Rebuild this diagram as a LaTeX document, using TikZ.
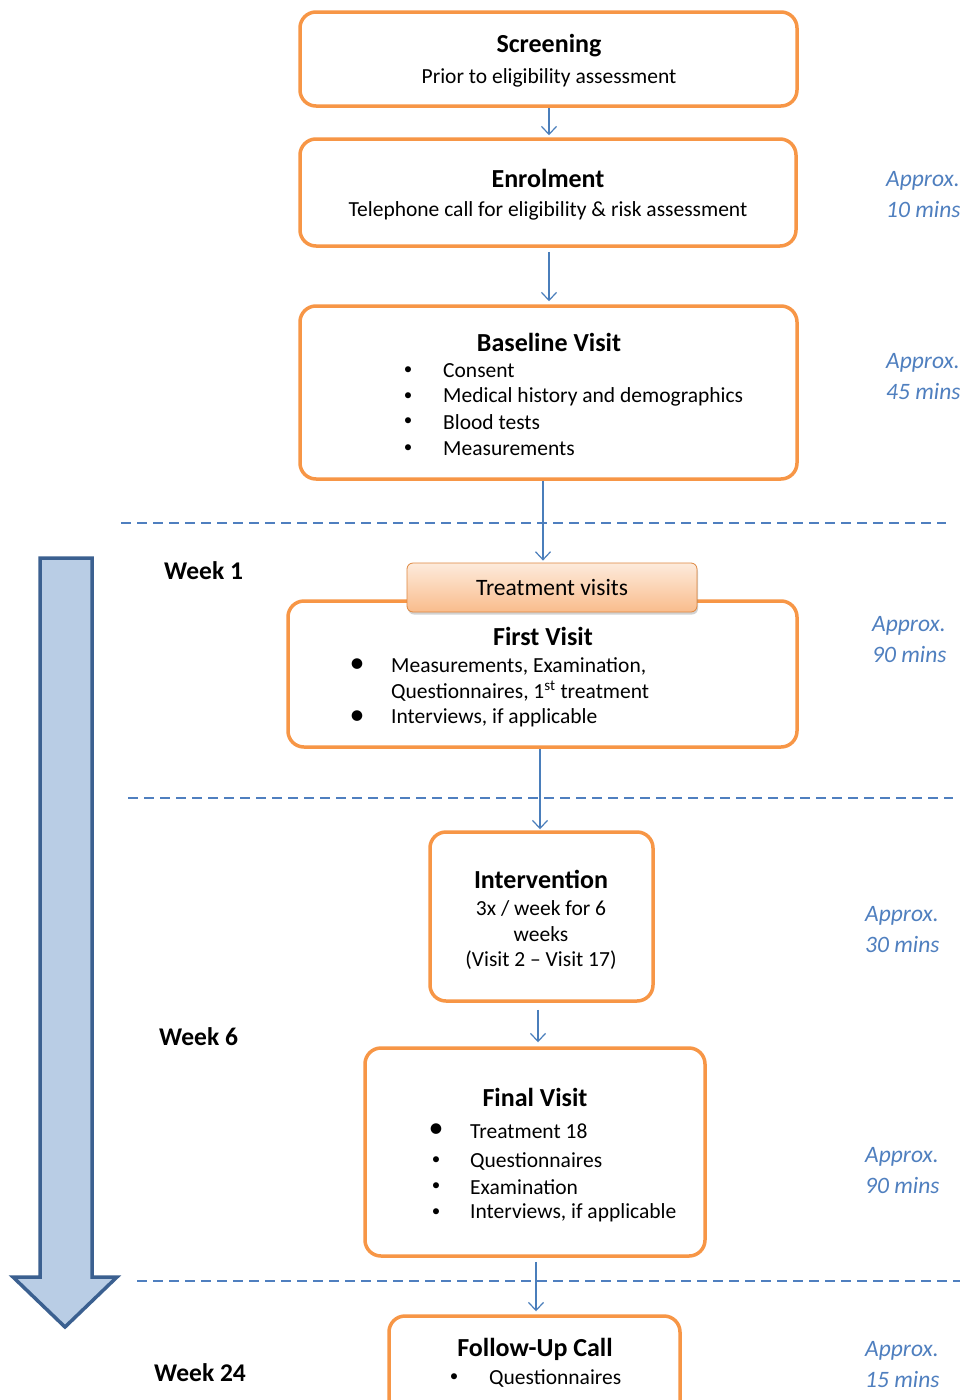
\documentclass[tikz,border=0pt]{standalone}
\usepackage{fontspec}
\setmainfont{Carlito}
\usetikzlibrary{arrows.meta,shadows}
\definecolor{borange}{HTML}{F79646}
\definecolor{lblue}{HTML}{4A7EBB}
\definecolor{tblue}{HTML}{4F7FBF}
\definecolor{afill}{HTML}{B9CDE5}
\definecolor{aline}{HTML}{3B6090}
\definecolor{tvtop}{HTML}{FDEBDC}
\definecolor{tvbot}{HTML}{F9BC8C}
\tikzset{
  obox/.style={draw=borange, line width=3.5pt, rounded corners=16pt, rectangle, fill=white},
  conn/.style={draw=lblue, line width=1.2pt, -{Straight Barb[length=8pt,width=15pt,line width=1.2pt]}},
  dline/.style={draw=tblue, line width=1.4pt, dash pattern=on 10pt off 6pt},
  ttl/.style={font=\fontsize{26}{30}\selectfont\bfseries, inner sep=0pt},
  txt/.style={font=\fontsize{21.5}{26}\selectfont, inner sep=0pt},
  ltxt/.style={txt, anchor=west},
  sbul/.style={font=\fontsize{17}{20}\selectfont, inner sep=0pt},
  lbul/.style={font=\fontsize{30}{30}\selectfont, inner sep=0pt},
  appr/.style={font=\fontsize{23.5}{28}\selectfont\itshape, text=tblue, anchor=west, inner sep=0pt},
  week/.style={font=\fontsize{25.5}{30}\selectfont\bfseries, anchor=west, inner sep=0pt}
}
\begin{document}
\begin{tikzpicture}[x=1pt,y=-1pt]
\useasboundingbox (0,0) rectangle (960,1400);
\fill[white] (0,0) rectangle (960,1400);

% big timeline arrow
\draw[fill=afill, draw=aline, line width=3.5pt, line join=miter]
  (40,558) -- (92,558) -- (92,1277) -- (117,1277) -- (65,1327) -- (13,1277) -- (40,1277) -- cycle;

% dashed separators
\draw[dline] (121,523) -- (946,523);
\draw[dline] (128,798) -- (953,798);
\draw[dline] (137,1281) -- (962,1281);

% boxes
\node[obox, minimum width=497pt, minimum height=94pt] (scr) at (548.5,59) {};
\node[obox, minimum width=496pt, minimum height=107pt] (enr) at (548,192.5) {};
\node[obox, minimum width=497pt, minimum height=173pt] (base) at (548.5,392.5) {};
\node[obox, minimum width=509pt, minimum height=146pt] (first) at (542.5,674) {};
\node[draw=borange!90!black, line width=0.8pt, rounded corners=6pt, top color=tvtop, bottom color=tvbot,
      minimum width=290pt, minimum height=49pt, inner sep=0pt,
      drop shadow={opacity=0.35, shadow xshift=1pt, shadow yshift=-2.5pt},
      font=\fontsize{23.5}{27}\selectfont] (tv) at (552,587.5) {Treatment visits};
\node[obox, minimum width=223pt, minimum height=169pt] (intv) at (541.5,916.5) {};
\node[obox, minimum width=340pt, minimum height=208pt] (final) at (535,1152) {};
\node[obox, minimum width=291pt, minimum height=100pt] (fu) at (534.5,1366) {};

% connector columns
\coordinate (c1) at (549,0);
\coordinate (c3) at (543,0);
\coordinate (c4) at (540,0);
\coordinate (c5) at (538,0);
\coordinate (c6) at (536,0);
\draw[conn, shorten >=2pt] (scr.south -| c1) -- (enr.north -| c1);
\draw[conn, shorten <=4pt, shorten >=3pt] (enr.south -| c1) -- (base.north -| c1);
\draw[conn, shorten >=2pt] (base.south -| c3) -- (tv.north -| c3);
\draw[conn, shorten >=1pt] (first.south -| c4) -- (intv.north -| c4);
\draw[conn, shorten <=7pt, shorten >=4pt] (intv.south -| c5) -- (final.north -| c5);
\draw[conn, shorten <=4pt, shorten >=3pt] (final.south -| c6) -- (fu.north -| c6);

% Screening
\node[ttl] (scrt) at (549,46) {Screening};
\node[txt] (scrs) at (549,78) {Prior to eligibility assessment};
% Enrolment
\node[ttl] (enrt) at (548,178) {Enrolment};
\node[txt] (enrs) at (548,211) {Telephone call for eligibility \& risk assessment};
% Baseline
\node[ttl] (bt) at (549,342) {Baseline Visit};
\node[sbul] (bb1) at (408,371) {•};
\node[sbul] (bb2) at (408,397) {•};
\node[sbul] (bb3) at (408,422) {•};
\node[sbul] (bb4) at (408,449) {•};
\node[ltxt] (bl1) at (443,371) {Consent};
\node[ltxt] (bl2) at (443,397) {Medical history and demographics};
\node[ltxt] (bl3) at (443,422) {Blood tests};
\node[ltxt] (bl4) at (443,449) {Measurements};
% First visit
\node[ttl] (ft) at (543,636) {First Visit};
\node[lbul] (fb1) at (357,666) {•};
\node[lbul] (fb2) at (357,718) {•};
\node[ltxt] (fl1) at (391,666) {Measurements, Examination,};
\node[ltxt] (fl2) at (391,691) {Questionnaires, 1\textsuperscript{st} treatment};
\node[ltxt] (fl3) at (391,718) {Interviews, if applicable};
% Intervention
\node[ttl] (it) at (541,879) {Intervention};
\node[txt] (il1) at (541,908) {3x / week for 6};
\node[txt] (il2) at (541,934) {weeks};
\node[txt] (il3) at (541,960) {(Visit 2 -- Visit 17)};
% Final visit
\node[ttl] (fvt) at (535,1097) {Final Visit};
\node[lbul] (vb1) at (436,1131) {•};
\node[sbul] (vb2) at (436,1161) {•};
\node[sbul] (vb3) at (436,1187) {•};
\node[sbul] (vb4) at (436,1213) {•};
\node[ltxt] (vl1) at (470,1131) {Treatment 18};
\node[ltxt] (vl2) at (470,1161) {Questionnaires};
\node[ltxt] (vl3) at (470,1187) {Examination};
\node[ltxt] (vl4) at (470,1213) {Interviews, if applicable};
% Follow-up
\node[ttl] (fut) at (535,1349) {Follow-Up Call};
\node[sbul] (ub1) at (454,1378) {•};
\node[ltxt] (ul1) at (489,1378) {Questionnaires};

% week labels
\node[week] (w1) at (164,571) {Week 1};
\node[week] (w6) at (159,1037) {Week 6};
\node[week] (w24) at (154,1373) {Week 24};

% durations
\node[appr] (a1a) at (886,181) {Approx.};
\node[appr] (a1b) at (886,209) {10 mins};
\node[appr] (a2a) at (886,363) {Approx.};
\node[appr] (a2b) at (886,391) {45 mins};
\node[appr] (a3a) at (872,626) {Approx.};
\node[appr] (a3b) at (872,654) {90 mins};
\node[appr] (a4a) at (865,916) {Approx.};
\node[appr] (a4b) at (865,944) {30 mins};
\node[appr] (a5a) at (865,1157) {Approx.};
\node[appr] (a5b) at (865,1185) {90 mins};
\node[appr] (a6a) at (865,1351) {Approx.};
\node[appr] (a6b) at (865,1379) {15 mins};
\end{tikzpicture}
\end{document}
